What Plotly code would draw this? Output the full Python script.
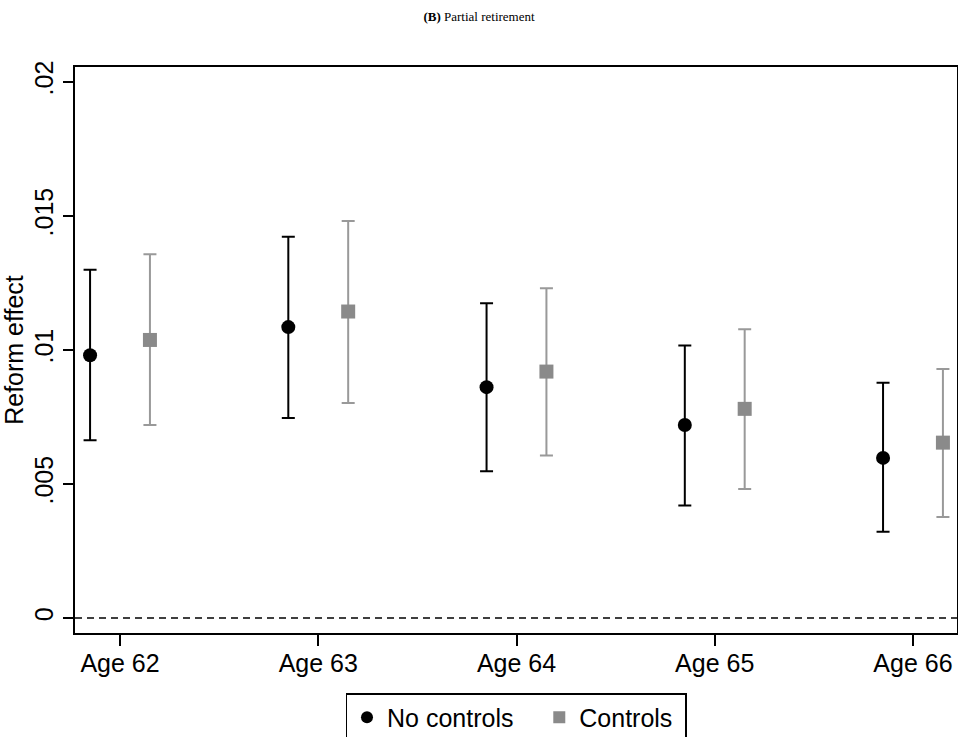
import plotly.graph_objects as go

ages = [62, 63, 64, 65, 66]
tick_labels = ["Age 62", "Age 63", "Age 64", "Age 65", "Age 66"]

no_controls = [0.0098, 0.01085, 0.00861, 0.0072, 0.00597]
no_controls_lo = [0.00663, 0.00746, 0.00547, 0.0042, 0.00322]
no_controls_hi = [0.01299, 0.01422, 0.01174, 0.01016, 0.00877]

controls = [0.01037, 0.01143, 0.00919, 0.0078, 0.00654]
controls_lo = [0.0072, 0.00802, 0.00606, 0.00481, 0.00377]
controls_hi = [0.01357, 0.01481, 0.0123, 0.01077, 0.00929]

series_names = ["No controls", "Controls"]

y_tickvals = [0, 0.005, 0.01, 0.015, 0.02]
y_ticktext = ["0", ".005", ".01", ".015", ".02"]
ref_value = 0

offset = 0.151
FONT = "Liberation Sans, Arial, sans-serif"
FS = 25
GRAY = "#8a8a8a"
NB = "\u00a0"

fig = go.Figure()
fig.add_trace(go.Scatter(
    x=[a - offset for a in ages], y=no_controls, mode="markers",
    name=series_names[0] + NB * 3,
    marker=dict(symbol="circle", size=14, color="black"),
    error_y=dict(type="data", symmetric=False,
                 array=[h - v for h, v in zip(no_controls_hi, no_controls)],
                 arrayminus=[v - l for v, l in zip(no_controls, no_controls_lo)],
                 color="black", thickness=2, width=6.5),
))
fig.add_trace(go.Scatter(
    x=[a + offset for a in ages], y=controls, mode="markers",
    name=series_names[1] + NB,
    marker=dict(symbol="square", size=14, color=GRAY),
    error_y=dict(type="data", symmetric=False,
                 array=[h - v for h, v in zip(controls_hi, controls)],
                 arrayminus=[v - l for v, l in zip(controls, controls_lo)],
                 color="#999999", thickness=2, width=6.5),
))

fig.add_shape(type="line", xref="paper", x0=0, x1=1, yref="y", y0=ref_value, y1=ref_value,
              line=dict(color="black", width=1.6, dash="7px,5px"), layer="below")

fig.update_layout(
    width=958, height=737,
    margin=dict(l=75, r=1, t=67, b=104, autoexpand=False),
    paper_bgcolor="white", plot_bgcolor="white",
    font=dict(family=FONT, size=FS, color="black"),
    title=dict(text="<b>(B)</b> Partial retirement", x=0.5, xanchor="center",
               xref="container", y=1 - 16 / 737, yref="container", yanchor="middle",
               font=dict(family="Liberation Serif, Times New Roman, serif", size=13, color="black")),
    showlegend=True,
    legend=dict(orientation="h", x=0.5, xanchor="center", xref="paper",
                y=-(693 - 633) / 566, yanchor="top",
                bordercolor="black", borderwidth=1.5, bgcolor="white",
                font=dict(family=FONT, size=FS, color="black"),
                itemsizing="constant"),
    xaxis=dict(range=[61.773, 66.222], tickvals=ages, ticktext=tick_labels,
               showgrid=False, zeroline=False, showline=True, mirror=True,
               linecolor="black", linewidth=1.6, ticks="outside", ticklen=11,
               tickwidth=1.5, tickcolor="black", ticklabelstandoff=-4,
               tickfont=dict(family=FONT, size=FS, color="black")),
    yaxis=dict(range=[-0.00056, 0.02055], tickvals=y_tickvals, ticktext=y_ticktext,
               tickangle=-90, showgrid=False, zeroline=False, showline=True, mirror=True,
               linecolor="black", linewidth=1.6, ticks="outside", ticklen=10,
               tickwidth=1.5, tickcolor="black",
               tickfont=dict(family=FONT, size=FS, color="black")),
)
fig.update_yaxes(title=dict(text="Reform effect", standoff=6,
                            font=dict(family=FONT, size=FS, color="black")))

fig.write_html("out.html")
